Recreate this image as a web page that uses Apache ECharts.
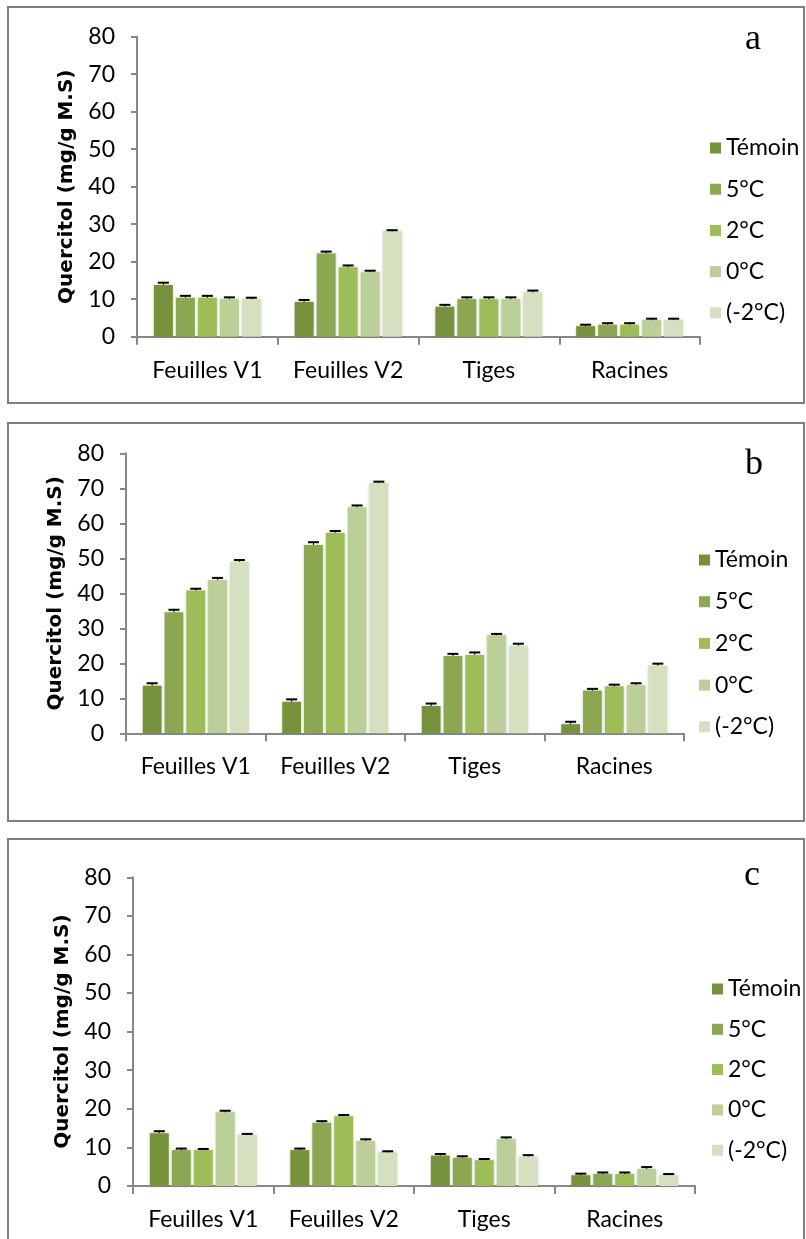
<!DOCTYPE html>
<html>
<head>
<meta charset="utf-8">
<script src="https://cdn.jsdelivr.net/npm/echarts@6/dist/echarts.min.js"></script>
<style>
  html, body { margin: 0; padding: 0; background: #ffffff; }
  #chart { width: 806px; height: 1239px; }
</style>
</head>
<body>
<div id="chart"></div>
<script>
// Organs measured and the temperature treatments
const categories = ['Feuilles V1', 'Feuilles V2', 'Tiges', 'Racines'];
const seriesNames = ['Témoin', '5°C', '2°C', '0°C', '(-2°C)'];
const yTicks = { min: 0, max: 80, interval: 10 };

// Quercitol content (mg/g M.S): one row per treatment, one column per organ
const valuesA = [
  [13.8, 9.3, 8.0, 2.8],
  [10.4, 22.2, 10.0, 3.2],
  [10.4, 18.5, 10.0, 3.2],
  [10.0, 17.2, 10.0, 4.4],
  [10.0, 28.1, 11.8, 4.4]
];
const valuesB = [
  [13.6, 9.0, 7.8, 2.6],
  [34.6, 53.8, 22.1, 12.2],
  [40.8, 57.3, 22.4, 13.4],
  [43.8, 64.6, 28.0, 13.8],
  [49.0, 71.5, 25.0, 19.3]
];
const valuesC = [
  [13.7, 9.3, 7.9, 2.8],
  [9.3, 16.4, 7.3, 3.1],
  [9.3, 18.1, 6.7, 3.1],
  [19.1, 11.7, 12.1, 4.4],
  [13.2, 8.7, 7.6, 2.8]
];

// Standard errors, same layout as the values
const errorsA = [
  [0.6, 0.5, 0.5, 0.4],
  [0.5, 0.5, 0.5, 0.4],
  [0.5, 0.5, 0.5, 0.4],
  [0.5, 0.4, 0.5, 0.4],
  [0.4, 0.3, 0.5, 0.4]
];
const errorsB = [
  [0.7, 0.7, 0.7, 0.7],
  [0.7, 0.8, 0.6, 0.5],
  [0.5, 0.5, 0.7, 0.5],
  [0.6, 0.5, 0.4, 0.5],
  [0.5, 0.4, 0.6, 0.6]
];
const errorsC = [
  [0.5, 0.4, 0.4, 0.4],
  [0.4, 0.4, 0.4, 0.4],
  [0.3, 0.3, 0.3, 0.4],
  [0.4, 0.4, 0.5, 0.5],
  [0.3, 0.3, 0.4, 0.3]
];

const panelLetters = ['a', 'b', 'c'];

const colors = ['#77923d', '#8ca752', '#9dbd59', '#bccf99', '#d4e0bf'];
const CAT_GAP = 0.24;
const BAR_GAP = 0.16;
const AXIS_COLOR = '#878787';
const FONT = 'Lato, "Liberation Sans", sans-serif';

const panels = [
  { values: valuesA, errors: errorsA, grid: { left: 137, top: 36.7, width: 563, height: 300 }, legend: { left: 705, top: 131, itemGap: 17.2 }, letter: { x: 753, y: 40 } },
  { values: valuesB, errors: errorsB, grid: { left: 126, top: 453.3, width: 558, height: 280 }, legend: { left: 694, top: 543, itemGap: 17.7 }, letter: { x: 754, y: 465 } },
  { values: valuesC, errors: errorsC, grid: { left: 133, top: 877.3, width: 562, height: 308.7 }, legend: { left: 707, top: 972, itemGap: 16.3 }, letter: { x: 752, y: 876 } }
];

function errorSeries(idx, vals, errs) {
  const data = [];
  vals.forEach((row, s) => row.forEach((v, c) => data.push([c, v, errs[s][c], s])));
  return {
    type: 'custom',
    xAxisIndex: idx,
    yAxisIndex: idx,
    z: 5,
    silent: true,
    data: data,
    encode: { x: 0, y: 1 },
    renderItem: function (params, api) {
      const c = api.value(0), v = api.value(1), e = api.value(2), s = api.value(3);
      const cw = api.size([1, 0])[0];
      const band = cw * (1 - CAT_GAP);
      const bw = band / (5 + 4 * BAR_GAP);
      const x = api.coord([c, 0])[0] - band / 2 + bw / 2 + s * bw * (1 + BAR_GAP);
      const yTop = api.coord([c, v + e])[1];
      const yBar = api.coord([c, v])[1];
      return {
        type: 'group',
        children: [
          { type: 'line', shape: { x1: x, y1: yBar, x2: x, y2: yTop }, style: { stroke: '#000', lineWidth: 1 } },
          { type: 'line', shape: { x1: x - 5.5, y1: yTop, x2: x + 5.5, y2: yTop }, style: { stroke: '#000', lineWidth: 2 } }
        ]
      };
    }
  };
}

const grids = [], xAxes = [], yAxes = [], series = [], legends = [], graphics = [];

panels.forEach((p, i) => {
  grids.push(p.grid);
  xAxes.push({
    type: 'category',
    gridIndex: i,
    data: categories,
    axisLine: { lineStyle: { color: AXIS_COLOR, width: 2 } },
    axisTick: { show: true, length: 8, interval: 0, lineStyle: { color: AXIS_COLOR, width: 2 } },
    axisLabel: { color: '#000', fontFamily: FONT, fontSize: 23, margin: 22, interval: 0 }
  });
  yAxes.push({
    type: 'value',
    gridIndex: i,
    min: yTicks.min,
    max: yTicks.max,
    interval: yTicks.interval,
    name: 'Quercitol (mg/g M.S)',
    nameLocation: 'middle',
    nameRotate: 90,
    nameGap: 60,
    nameTextStyle: { color: '#000', fontFamily: '"DejaVu Sans", sans-serif', fontWeight: 'bold', fontSize: 20 },
    axisLine: { show: true, lineStyle: { color: AXIS_COLOR, width: 2 } },
    axisTick: { show: true, length: 6, lineStyle: { color: AXIS_COLOR, width: 2 } },
    splitLine: { show: false },
    axisLabel: { color: '#000', fontFamily: FONT, fontSize: 23, margin: 22 }
  });
  seriesNames.forEach((name, s) => {
    series.push({
      type: 'bar',
      name: name,
      xAxisIndex: i,
      yAxisIndex: i,
      data: p.values[s],
      barCategoryGap: (CAT_GAP * 100) + '%',
      barGap: (BAR_GAP * 100) + '%',
      itemStyle: {
        color: colors[s],
        shadowColor: 'rgba(90, 100, 60, 0.35)',
        shadowBlur: 3
      }
    });
  });
  series.push(errorSeries(i, p.values, p.errors));
  legends.push({
    orient: 'vertical',
    left: p.legend.left,
    top: p.legend.top,
    itemGap: p.legend.itemGap,
    itemWidth: 11,
    itemHeight: 11,
    icon: 'rect',
    data: seriesNames,
    selectedMode: false,
    textStyle: { color: '#000', fontFamily: FONT, fontSize: 23, lineHeight: 24, padding: [0, 0, 0, 0] }
  });
  graphics.push({
    type: 'text',
    x: p.letter.x,
    y: p.letter.y,
    style: { text: panelLetters[i], font: '36px "Liberation Serif", "Times New Roman", serif', fill: '#000', textAlign: 'center', textVerticalAlign: 'middle' }
  });
});

// Panel frames
graphics.push(
  { type: 'rect', shape: { x: 8, y: 7, width: 796, height: 396 }, style: { fill: 'none', stroke: '#7f7f7f', lineWidth: 2 }, z: -1 },
  { type: 'rect', shape: { x: 8, y: 423, width: 796, height: 398 }, style: { fill: 'none', stroke: '#7f7f7f', lineWidth: 2 }, z: -1 },
  { type: 'rect', shape: { x: 8, y: 839, width: 796, height: 420 }, style: { fill: 'none', stroke: '#7f7f7f', lineWidth: 2 }, z: -1 }
);

const chart = echarts.init(document.getElementById('chart'), null, { renderer: 'canvas' });
chart.setOption({
  animation: false,
  backgroundColor: '#ffffff',
  grid: grids,
  xAxis: xAxes,
  yAxis: yAxes,
  legend: legends,
  series: series,
  graphic: graphics
});
</script>
</body>
</html>
